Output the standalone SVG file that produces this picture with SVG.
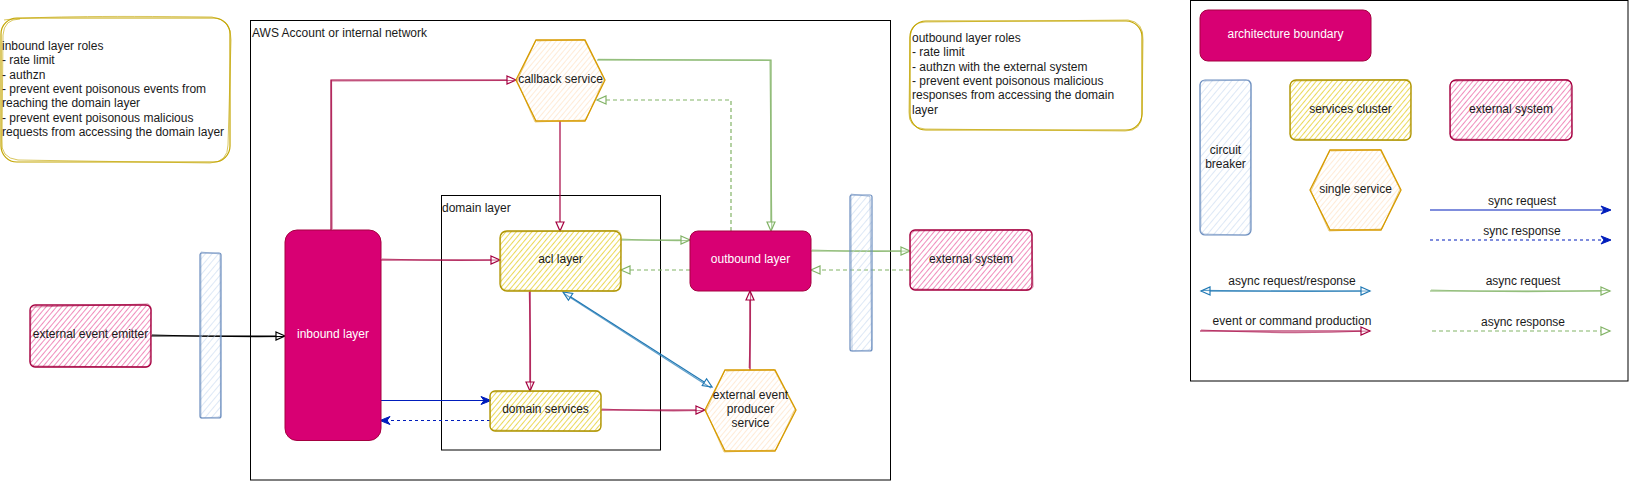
<svg xmlns="http://www.w3.org/2000/svg" width="1631" height="481" viewBox="0 0 1631 481">
<style>
text{font-family:"Liberation Sans",Arial,sans-serif;font-size:12px;fill:#1a1a1a}
.c{text-anchor:middle}
.w{fill:#ffffff}
.frame{fill:none;stroke:#000;stroke-width:1}
.pink{fill:#d80073;stroke:#A50040;stroke-width:1}
.note{fill:none;stroke:#c3a500;stroke-width:1.2}
.note2{fill:none;stroke:#c3a500;stroke-width:0.8;opacity:0.8}
.ylw{fill:url(#hY);stroke:#B09500;stroke-width:1.3}
.ylw2{fill:none;stroke:#B09500;stroke-width:0.7;opacity:0.7}
.ext{fill:url(#hP);stroke:#A50040;stroke-width:1.3}
.ext2{fill:none;stroke:#A50040;stroke-width:0.7;opacity:0.7}
.cb{fill:url(#hB);stroke:#6c8ebf;stroke-width:1.2}
.cb2{fill:none;stroke:#6c8ebf;stroke-width:0.7;opacity:0.7}
.hex{fill:url(#hO);stroke:#d79b00;stroke-width:1.3}
.hex2{fill:none;stroke:#d79b00;stroke-width:0.7;opacity:0.7}
.l{fill:none;stroke-width:1.2}
.red{stroke:#A50040}
.grn{stroke:#82b366}
.blu{stroke:#1f78b4}
.syn{stroke:#001DBC}
.blk{stroke:#000}
.dg{stroke-dasharray:4 3}
.db{stroke-dasharray:3 3}
</style>
<defs>
<pattern id="hY" width="4" height="4" patternUnits="userSpaceOnUse" patternTransform="rotate(40)"><line x1="0" y1="0" x2="0" y2="4" stroke="#e0c400" stroke-width="1.3"/></pattern>
<pattern id="hP" width="4" height="4" patternUnits="userSpaceOnUse" patternTransform="rotate(40)"><line x1="0" y1="0" x2="0" y2="4" stroke="#e6408e" stroke-width="1.2"/></pattern>
<pattern id="hB" width="5" height="5" patternUnits="userSpaceOnUse" patternTransform="rotate(40)"><line x1="0" y1="0" x2="0" y2="5" stroke="#bcd1ee" stroke-width="1"/></pattern>
<pattern id="hO" width="4" height="4" patternUnits="userSpaceOnUse" patternTransform="rotate(40)"><line x1="0" y1="0" x2="0" y2="4" stroke="#ffd8b0" stroke-width="1"/></pattern>
<marker id="mR" markerUnits="userSpaceOnUse" markerWidth="12" markerHeight="12" refX="9" refY="4" orient="auto" overflow="visible"><path d="M0,0 L9,4 L0,8 Z" fill="#fff" stroke="#A50040" stroke-width="1.2"/></marker>
<marker id="mG" markerUnits="userSpaceOnUse" markerWidth="12" markerHeight="12" refX="9" refY="4" orient="auto" overflow="visible"><path d="M0,0 L9,4 L0,8 Z" fill="#fff" stroke="#82b366" stroke-width="1.2"/></marker>
<marker id="mB" markerUnits="userSpaceOnUse" markerWidth="12" markerHeight="12" refX="9" refY="4" orient="auto-start-reverse" overflow="visible"><path d="M0,0 L9,4 L0,8 Z" fill="#fff" stroke="#1f78b4" stroke-width="1.2"/></marker>
<marker id="mK" markerUnits="userSpaceOnUse" markerWidth="12" markerHeight="12" refX="9" refY="4" orient="auto" overflow="visible"><path d="M0,0 L9,4 L0,8 Z" fill="#fff" stroke="#000" stroke-width="1.2"/></marker>
<marker id="mS" markerUnits="userSpaceOnUse" markerWidth="12" markerHeight="12" refX="9" refY="4" orient="auto" overflow="visible"><path d="M0,0 L10,4 L0,8 L3,4 Z" fill="#001DBC" stroke="#001DBC" stroke-width="1"/></marker>
</defs>
<rect width="1631" height="481" fill="#ffffff"/>

<g id="inbound-roles">
<rect class="note" x="1" y="18" width="229" height="144" rx="16"/>
<path class="note2" d="M4,20 Q40,15 212,17 Q232,20 231,40 L228,145 Q228,162 210,163 L18,160 Q0,158 2,140 L3,35 Q4,19 20,19"/>
<text x="2" y="50">inbound layer roles</text>
<text x="2" y="64.3">- rate limit</text>
<text x="2" y="78.6">- authzn</text>
<text x="2" y="92.9">- prevent event poisonous events from</text>
<text x="2" y="107.2">reaching the domain layer</text>
<text x="2" y="121.5">- prevent event poisonous malicious</text>
<text x="2" y="135.8">requests from accessing the domain layer</text>
</g>

<g id="aws-account">
<rect class="frame" x="250.5" y="20.5" width="640" height="459.5"/>
<text x="252" y="37">AWS Account or internal network</text>
</g>

<g id="domain-layer">
<rect class="frame" x="441.5" y="195.5" width="219" height="254.5"/>
<text x="442" y="212">domain layer</text>
</g>

<g id="outbound-roles">
<rect class="note" x="910" y="21" width="232" height="109" rx="16"/>
<path class="note2" d="M925,22 L1128,20 Q1144,22 1143,40 L1142,114 Q1142,131 1125,131 L925,129 Q908,128 909,112 L910,38 Q911,22 925,22"/>
<text x="912" y="42">outbound layer roles</text>
<text x="912" y="56.3">- rate limit</text>
<text x="912" y="70.6">- authzn with the external system</text>
<text x="912" y="84.9">- prevent event poisonous malicious</text>
<text x="912" y="99.2">responses from accessing the domain</text>
<text x="912" y="113.5">layer</text>
</g>

<g id="connectors">
<path class="l blk" d="M151,336 L285,336" marker-end="url(#mK)"/>
<path class="l blk" d="M152,335 Q220,337 284,336.5" stroke-width="0.7"/>
<path class="l red" d="M331,230 L331,80 L516,80" marker-end="url(#mR)"/>
<path class="l red" d="M332,229 L331.5,81 L514,80.5" stroke-width="0.6" opacity="0.6"/>
<path class="l red" d="M560,121 L560,231" marker-end="url(#mR)"/>
<path class="l red" d="M381,260 L500,260" marker-end="url(#mR)"/>
<path class="l red" d="M382,259 Q440,261 499,260" stroke-width="0.6" opacity="0.6"/>
<path class="l grn" d="M597,60 L771,60 L771,231" marker-end="url(#mG)"/>
<path class="l grn" d="M598,59.3 L770,60.5 L771.8,229" stroke-width="0.6" opacity="0.7"/>
<path class="l grn dg" d="M731,231 L731,100 L597,100" marker-end="url(#mG)"/>
<path class="l grn" d="M621,240 L690,240" marker-end="url(#mG)"/>
<path class="l grn" d="M622,239 Q660,241 689,240.5" stroke-width="0.6" opacity="0.7"/>
<path class="l grn dg" d="M690,270 L621,270" marker-end="url(#mG)"/>
<path class="l red" d="M530,291 L530,391" marker-end="url(#mR)"/>
<path class="l red" d="M529.3,292 Q531,340 530.5,390" stroke-width="0.6" opacity="0.6"/>
<path class="l syn" d="M381,400.5 L490,400.5" marker-end="url(#mS)"/>
<path class="l syn db" d="M490,420.5 L381,420.5" marker-end="url(#mS)"/>
<path class="l red" d="M601,410 L705,410" marker-end="url(#mR)"/>
<path class="l red" d="M602,409 Q650,411.5 704,410.5" stroke-width="0.6" opacity="0.6"/>
<path class="l blu" d="M563,292 L712,387" marker-start="url(#mB)" marker-end="url(#mB)"/>
<path class="l blu" d="M564,293.5 L711,388" stroke-width="0.6" opacity="0.7"/>
<path class="l red" d="M750,370 L750,291" marker-end="url(#mR)"/>
<path class="l red" d="M749.2,368 Q751,330 750.5,293" stroke-width="0.6" opacity="0.6"/>
<path class="l grn" d="M811,251 L910,251" marker-end="url(#mG)"/>
<path class="l grn" d="M812,250 Q860,252 909,251" stroke-width="0.6" opacity="0.7"/>
<path class="l grn dg" d="M910,270 L811,270" marker-end="url(#mG)"/>
</g>

<g id="external-event-emitter">
<rect class="ext" x="30" y="305" width="121" height="62" rx="5"/>
<path class="ext2" d="M32,307 L148,304 Q152,306 151,312 L150,365 Q148,368 140,367 L34,366 Q29,364 30,358 L31,310"/>
<text class="c" x="90.5" y="338">external event emitter</text>
</g>

<g id="circuit-breaker-in">
<rect class="cb" x="200" y="253" width="21" height="165" rx="2"/>
<path class="cb2" d="M201,252 L220,254 L220.5,417 L201,418 Z"/>
</g>

<g id="inbound-layer">
<rect class="pink" x="285" y="230" width="96" height="210.5" rx="12"/>
<text class="c w" x="333" y="338">inbound layer</text>
</g>

<g id="callback-service">
<polygon class="hex" points="536,40 585,40 605,80 585,121 536,121 516,80"/>
<polyline class="hex2" points="537,41 584,39.5 604,79 586,120 535,122 517,81 536,40"/>
<text class="c" x="560.5" y="83">callback service</text>
</g>

<g id="acl-layer">
<rect class="ylw" x="500" y="231" width="121" height="60" rx="7"/>
<path class="ylw2" d="M504,232 L618,230.5 Q622,233 621,240 L620,289 Q618,292 610,291 L505,290 Q500,288 501,282 L500.5,236 Q501,231 505,231.5"/>
<text class="c" x="560.5" y="263">acl layer</text>
</g>

<g id="outbound-layer">
<rect class="pink" x="690" y="231" width="121" height="60" rx="8"/>
<text class="c w" x="750.5" y="263">outbound layer</text>
</g>

<g id="domain-services">
<rect class="ylw" x="490" y="391" width="111" height="40" rx="5"/>
<path class="ylw2" d="M493,392 L598,390.5 Q602,392 601,398 L600.5,429 Q599,432 592,431.5 L494,430 Q489,429 490.5,424 L490,395"/>
<text class="c" x="545.5" y="413">domain services</text>
</g>

<g id="external-event-producer">
<polygon class="hex" points="725,370 775,370 796,410 775,451 725,451 705,410"/>
<polyline class="hex2" points="726,371 774,369.5 795,409 776,450 724,452 706,411 725,370"/>
<text class="c" x="750.5" y="399">external event</text>
<text class="c" x="750.5" y="413">producer</text>
<text class="c" x="750.5" y="427">service</text>
</g>

<g id="circuit-breaker-out">
<rect class="cb" x="850" y="195" width="22" height="156" rx="2"/>
<path class="cb2" d="M851,194 L870,196.5 L871.5,350 L852,351 Z"/>
</g>

<g id="external-system">
<rect class="ext" x="910" y="230" width="122" height="60" rx="5"/>
<path class="ext2" d="M913,231 L1029,229.5 Q1033,231 1032,237 L1033,287 Q1031,291 1024,290.5 L914,289 Q909,288 910.5,282 L910,234"/>
<text class="c" x="971" y="263">external system</text>
</g>

<g id="legend">
<rect class="frame" x="1190.5" y="0.5" width="437.5" height="380.5"/>
<g id="legend-architecture-boundary">
<rect class="pink" x="1200" y="10" width="171" height="51" rx="8"/>
<text class="c w" x="1285.5" y="38">architecture boundary</text>
</g>
<g id="legend-circuit-breaker">
<rect class="cb" x="1200" y="80" width="51" height="155" rx="5"/>
<path class="cb2" d="M1203,81 L1249,80 Q1252,82 1251,88 L1250,232 Q1248,236 1242,235 L1204,234 Q1199,232 1201,226 L1200,84"/>
<text class="c" x="1225.5" y="154">circuit</text>
<text class="c" x="1225.5" y="168">breaker</text>
</g>
<g id="legend-services-cluster">
<rect class="ylw" x="1290" y="80" width="121" height="60" rx="6"/>
<path class="ylw2" d="M1294,81 L1408,79.5 Q1412,82 1411,88 L1410,138 Q1408,141 1400,140.5 L1294,139 Q1289,137 1290.5,131 L1290,84"/>
<text class="c" x="1350.5" y="113">services cluster</text>
</g>
<g id="legend-external-system">
<rect class="ext" x="1450" y="80" width="122" height="60" rx="6"/>
<path class="ext2" d="M1454,81 L1568,79.5 Q1572,82 1571,88 L1572,137 Q1570,141 1562,140.5 L1455,139 Q1449,137 1450.5,131 L1450,84"/>
<text class="c" x="1511" y="113">external system</text>
</g>
<g id="legend-single-service">
<polygon class="hex" points="1330,150 1381,150 1401,190 1381,230 1330,230 1310,190"/>
<polyline class="hex2" points="1331,151 1380,149.5 1400,189 1382,229 1329,231 1311,191 1330,150"/>
<text class="c" x="1355.5" y="193">single service</text>
</g>
<path class="l syn" d="M1430,210 L1610,210" marker-end="url(#mS)"/>
<text class="c" x="1522" y="205">sync request</text>
<path class="l syn db" d="M1430,240 L1610,240" marker-end="url(#mS)"/>
<text class="c" x="1522" y="235">sync response</text>
<path class="l blu" d="M1201,291 L1370,291" marker-start="url(#mB)" marker-end="url(#mB)"/>
<path class="l blu" d="M1203,290.3 Q1290,292 1368,291" stroke-width="0.6" opacity="0.7"/>
<text class="c" x="1292" y="285">async request/response</text>
<path class="l grn" d="M1430,291 L1610,291" marker-end="url(#mG)"/>
<path class="l grn" d="M1431,290 Q1520,293 1608,290.5" stroke-width="0.6" opacity="0.7"/>
<text class="c" x="1523" y="285">async request</text>
<path class="l red" d="M1200,331 L1370,331" marker-end="url(#mR)"/>
<path class="l red" d="M1201,330 Q1285,334.5 1368,331" stroke-width="0.6" opacity="0.6"/>
<text class="c" x="1292" y="325">event or command production</text>
<path class="l grn dg" d="M1432,331 L1610,331" marker-end="url(#mG)"/>
<text class="c" x="1523" y="326">async response</text>
</g>
</svg>
